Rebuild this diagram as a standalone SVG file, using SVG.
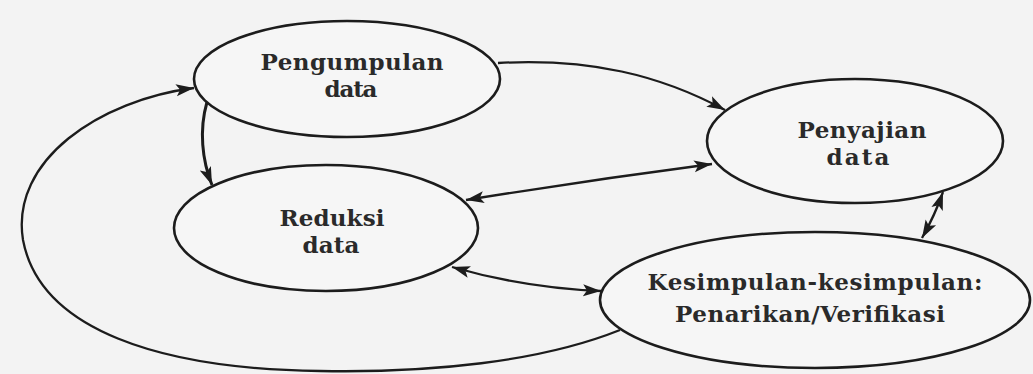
<svg xmlns="http://www.w3.org/2000/svg" width="1033" height="374" viewBox="0 0 1033 374">
<style>
.node ellipse{fill:#f6f6f6;stroke:#1c1c1c;stroke-width:2.6}
.node text{font-family:"DejaVu Serif","Liberation Serif",serif;font-weight:bold;font-size:23px;fill:#2a2a2a;text-anchor:middle}
.conn path{fill:none;stroke:#1c1c1c;stroke-width:2.3}
</style>
<defs>
<marker id="ah" markerUnits="userSpaceOnUse" markerWidth="20" markerHeight="14" refX="18" refY="7" orient="auto-start-reverse">
<path d="M0,1 L18,7 L0,13 L4,7 z" fill="#1c1c1c"/>
</marker>
</defs>
<rect width="1033" height="374" fill="#f3f3f3"/>
<g class="conn">
<path d="M 498 63 C 590 58, 660 75, 725 110" marker-end="url(#ah)"/>
<path d="M 466 200 Q 590 180, 712 164" marker-start="url(#ah)" marker-end="url(#ah)"/>
<path d="M 452 267 Q 525 288, 601 291" marker-start="url(#ah)" marker-end="url(#ah)"/>
<path d="M 943 192 Q 935 215, 922 238" marker-start="url(#ah)" marker-end="url(#ah)"/>
<path d="M 207 102 C 199 130, 202 160, 212 185" marker-end="url(#ah)" style="stroke-width:3"/>
<path d="M 620 330 C 540 362, 430 373, 320 371 C 160 369, 40 330, 23 240 C 10 160, 100 100, 194 88" marker-end="url(#ah)"/>
</g>
<g id="pengumpulan" class="node">
<ellipse cx="347" cy="79" rx="153" ry="58"/>
<text x="352" y="70" textLength="183" lengthAdjust="spacing">Pengumpulan</text>
<text x="351" y="97" textLength="53" lengthAdjust="spacing">data</text>
</g>
<g id="penyajian" class="node">
<ellipse cx="855" cy="141" rx="148" ry="62"/>
<text x="862" y="138" textLength="129" lengthAdjust="spacing">Penyajian</text>
<text x="858" y="165" textLength="63" lengthAdjust="spacing">data</text>
</g>
<g id="reduksi" class="node">
<ellipse cx="326" cy="228" rx="152" ry="63"/>
<text x="332" y="226" textLength="105" lengthAdjust="spacing">Reduksi</text>
<text x="331" y="253" textLength="57" lengthAdjust="spacing">data</text>
</g>
<g id="kesimpulan" class="node">
<ellipse cx="815" cy="300" rx="215" ry="68"/>
<text x="815" y="290" textLength="335" lengthAdjust="spacing">Kesimpulan-kesimpulan:</text>
<text x="810" y="322" textLength="270" lengthAdjust="spacing">Penarikan/Verifikasi</text>
</g>
</svg>
